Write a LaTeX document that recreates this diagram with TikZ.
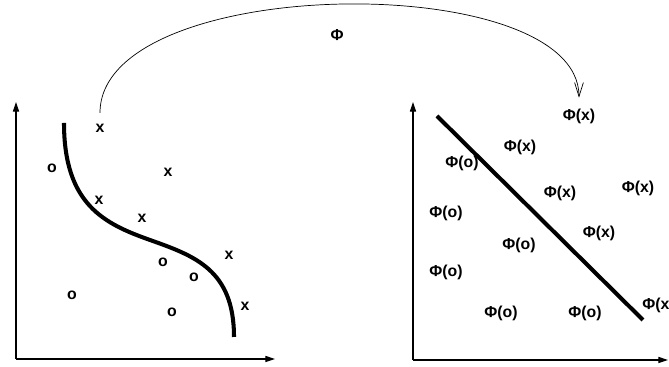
\documentclass[tikz,border=0pt]{standalone}
\usepackage{fontspec}
\setmainfont{Liberation Sans}
\usetikzlibrary{arrows.meta}

\begin{document}
\begin{tikzpicture}[>={Triangle[length=5.5pt, width=3.5pt]},
    axis/.style={->, line width=0.6pt},
    sep/.style={line width=2.3pt},
    pt/.style={font=\fontsize{9}{11}\selectfont\bfseries, inner sep=3pt}]
    \useasboundingbox (0,0) rectangle (13.38,7.34);

    % Input space axes
    \coordinate (lo) at (0.32,0.16);
    \coordinate (ly) at (0.32,5.30);
    \coordinate (lx) at (5.50,0.16);
    \draw[axis] (lo) -- (ly);
    \draw[axis] (lo) -- (lx);

    % Nonlinear boundary
    \draw[sep] (1.28,4.88) .. controls (1.28,3.24) and (2.10,2.86) .. (3.00,2.54)
        .. controls (3.90,2.22) and (4.68,1.94) .. (4.68,0.60);

    % Input points
    \node[pt] (lx1) at (2.00,4.78) {x};
    \node[pt] (lo1) at (1.04,3.98) {o};
    \node[pt] (lx2) at (3.36,3.90) {x};
    \node[pt] (lx3) at (1.98,3.34) {x};
    \node[pt] (lx4) at (2.84,2.98) {x};
    \node[pt] (lx5) at (4.58,2.24) {x};
    \node[pt] (lo2) at (3.26,2.10) {o};
    \node[pt] (lo3) at (3.88,1.80) {o};
    \node[pt] (lo4) at (1.44,1.44) {o};
    \node[pt] (lx6) at (4.90,1.22) {x};
    \node[pt] (lo5) at (3.44,1.10) {o};

    % Feature space axes
    \coordinate (ro) at (8.26,0.14);
    \coordinate (ry) at (8.26,5.30);
    \coordinate (rx) at (13.36,0.14);
    \draw[axis] (ro) -- (ry);
    \draw[axis] (ro) -- (rx);

    % Linear boundary
    \draw[sep] (8.74,5.02) -- (12.86,0.94);

    % Mapped points
    \node[pt] (rx1) at (11.58,5.02) {Φ(x)};
    \node[pt] (rx2) at (10.40,4.40) {Φ(x)};
    \node[pt] (ro1) at (9.24,4.08) {Φ(o)};
    \node[pt] (rx3) at (11.20,3.48) {Φ(x)};
    \node[pt] (rx4) at (12.76,3.58) {Φ(x)};
    \node[pt] (ro2) at (8.92,3.08) {Φ(o)};
    \node[pt] (rx5) at (11.98,2.68) {Φ(x)};
    \node[pt] (ro3) at (10.38,2.44) {Φ(o)};
    \node[pt] (ro4) at (8.92,1.90) {Φ(o)};
    \node[pt] (ro5) at (10.02,1.08) {Φ(o)};
    \node[pt] (ro6) at (11.70,1.08) {Φ(o)};
    \node[pt, anchor=west, inner sep=0pt] (rx6) at (12.84,1.24) {Φ(x)};

    % Mapping
    \draw[-{Straight Barb[length=8pt, width=5pt]}, line width=0.4pt, shorten <=3pt, shorten >=3pt]
        (lx1.north) .. controls +(0,2.9) and +(0,2.7) .. (rx1.north);
    \node[pt] (map) at (6.74,6.64) {Φ};
\end{tikzpicture}
\end{document}
